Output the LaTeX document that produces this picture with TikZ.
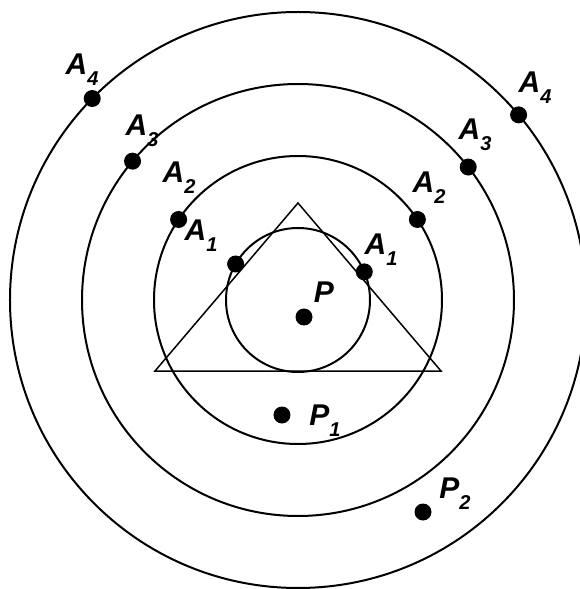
\documentclass[tikz,border=0pt]{standalone}
\usepackage{fontspec}
\setmainfont{Liberation Sans}
\usetikzlibrary{calc}
\tikzset{
	dot/.style={circle,fill,inner sep=0pt,minimum size=17pt},
	lbl/.style={font=\fontsize{30}{30}\selectfont\bfseries\itshape,inner sep=0pt},
}
\newcommand{\idx}[1]{\raisebox{-11pt}{\fontsize{20}{20}\selectfont #1}}

\begin{document}
\begin{tikzpicture}[line width=2pt]
		% 画布范围
		\useasboundingbox (-298pt,-289pt) rectangle (281pt,300pt);
		\coordinate (O) at (0,0);
		
		% 四个同心圆
		\draw (O) circle(72pt);
		\draw (O) circle(144pt);
		\draw (O) circle(216pt);
		\draw (O) circle(288pt);
		
		% 三角形
		\coordinate (T1) at (-143pt,-71pt);
		\coordinate (T2) at (143pt,-71pt);
		\coordinate (T3) at (0,97pt);
		\draw[line width=1.5pt] (T1)--(T2)--(T3)--cycle;
		
		% 圆上的点
		\node[dot] (A1l) at (150:72pt) {};
		\node[dot] (A1r) at (23:72pt) {};
		\node[dot] (A2l) at (146:144pt) {};
		\node[dot] (A2r) at (34:144pt) {};
		\node[dot] (A3l) at (140:216pt) {};
		\node[dot] (A3r) at (38:216pt) {};
		\node[dot] (A4l) at (135.6:288pt) {};
		\node[dot] (A4r) at (40:288pt) {};
		\node[dot] (P) at (6pt,-17pt) {};
		\node[dot] (P1) at (-16pt,-115pt) {};
		\node[dot] (P2) at (125pt,-212pt) {};
		
		% 标注
		\node[lbl] (lA1l) at (-97pt,64pt) {A\idx{1}};
		\node[lbl] (lA1r) at (83pt,50pt) {A\idx{1}};
		\node[lbl] (lA2l) at (-119pt,122pt) {A\idx{2}};
		\node[lbl] (lA2r) at (131pt,112pt) {A\idx{2}};
		\node[lbl] (lA3l) at (-156pt,169pt) {A\idx{3}};
		\node[lbl] (lA3r) at (177pt,165pt) {A\idx{3}};
		\node[lbl] (lA4l) at (-216pt,230pt) {A\idx{4}};
		\node[lbl] (lA4r) at (237pt,212pt) {A\idx{4}};
		\node[lbl] (lP) at (26pt,8pt) {P};
		\node[lbl] (lP1) at (27pt,-121pt) {P\idx{1}};
		\node[lbl] (lP2) at (157pt,-194pt) {P\idx{2}};
		
	\end{tikzpicture}
\end{document}
